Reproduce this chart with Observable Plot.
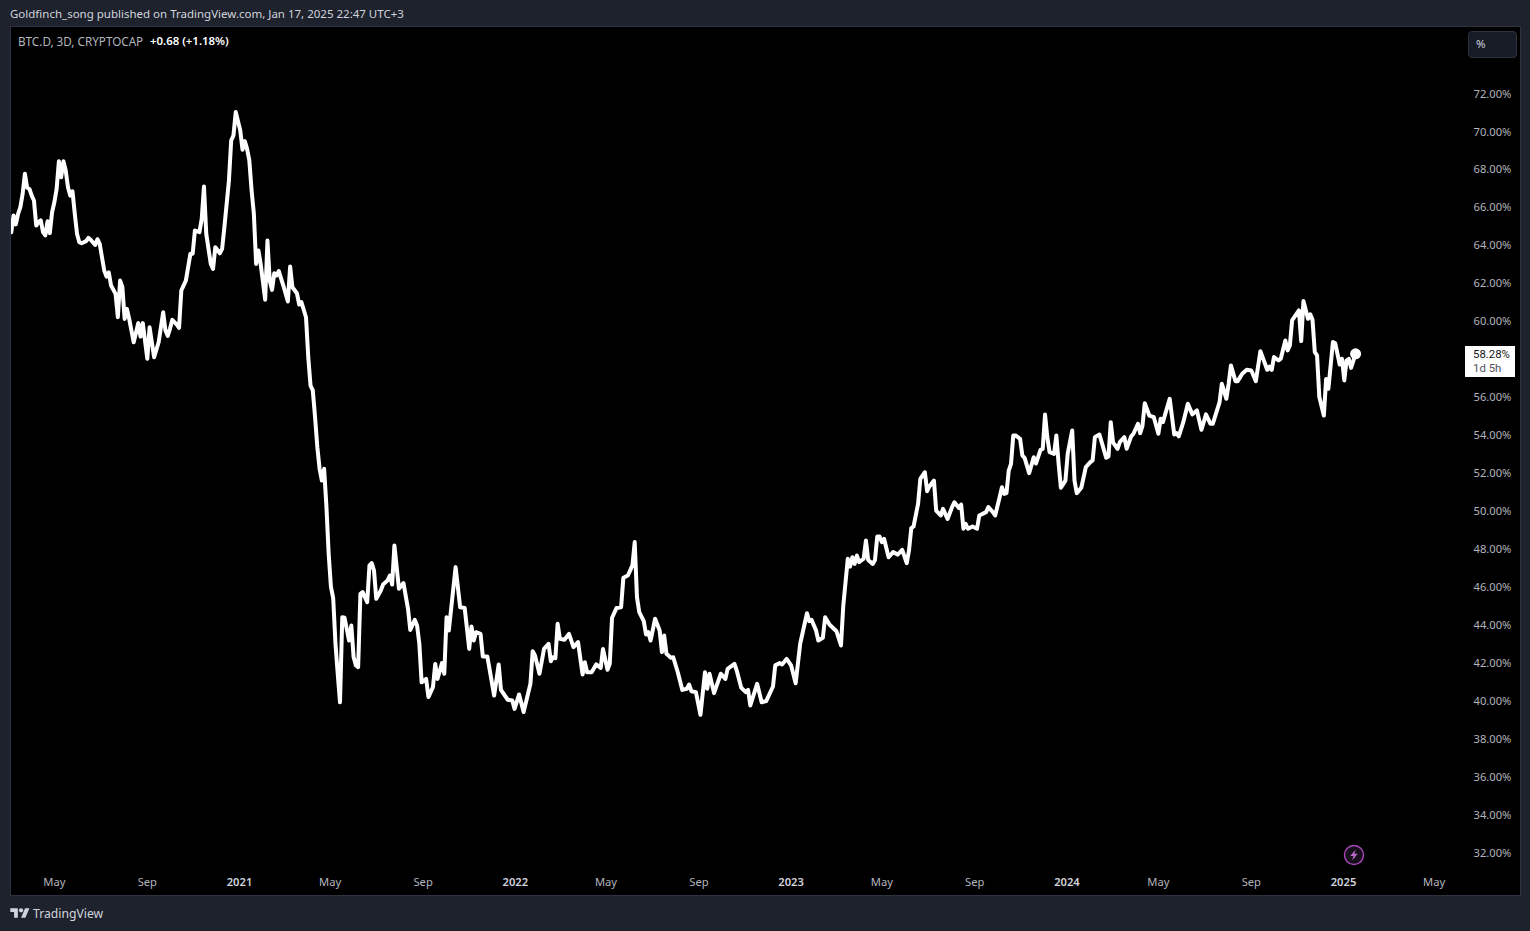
<!DOCTYPE html>
<html>
<head>
<meta charset="utf-8">
<script src="https://cdn.jsdelivr.net/npm/d3@7"></script>
<script src="https://cdn.jsdelivr.net/npm/@observablehq/plot@0.6"></script>
<style>
  html,body{margin:0;padding:0;background:#1e222d;width:1530px;height:931px;overflow:hidden;font-family:"Noto Sans",sans-serif;}
  .abs{position:absolute;white-space:nowrap;}
  #chart{position:absolute;left:11px;top:27px;width:1509px;height:868px;outline:1px solid #2e323e;}
  #chart svg{display:block;}
</style>
</head>
<body>
<div class="abs" id="head" style="left:10px;top:6px;font-size:11.5px;line-height:16px;color:#d1d4dc;">Goldfinch_song published on TradingView.com, Jan 17, 2025 22:47 UTC+3</div>
<div id="chart"></div>
<div class="abs" style="left:18px;top:33px;font-size:11.7px;line-height:16px;color:#b2b5be;">BTC.D, 3D, CRYPTOCAP</div>
<div class="abs" style="left:150px;top:33px;font-size:11.4px;line-height:16px;color:#fff;font-weight:600;">+0.68 (+1.18%)</div>
<div class="abs" style="left:1468px;top:31px;width:47px;height:25px;background:#171b26;border:1px solid #2e323e;border-radius:4px;"></div>
<div class="abs" style="left:1476px;top:36px;font-size:11.5px;line-height:16px;color:#d1d4dc;">%</div>
<div class="abs" style="left:1465px;top:346px;width:50px;height:31px;background:#fff;"></div>
<div class="abs" style="left:1473px;top:348px;font-family:Roboto,sans-serif;font-size:11.4px;line-height:13px;color:#131722;">58.28%</div>
<div class="abs" style="left:1473px;top:362px;font-family:Roboto,sans-serif;font-size:11.4px;line-height:13px;color:#50535e;">1d 5h</div>
<svg class="abs" style="left:1343px;top:844px;" width="22" height="22" viewBox="0 0 22 22">
  <circle cx="11" cy="11" r="9.5" fill="#16101c" stroke="#ab47bc" stroke-width="1.4"/>
  <path d="M12.6 5.6 L7.2 12 H10.4 L9.2 16.4 L14.8 9.8 H11.4 Z" fill="#ba68c8"/>
</svg>
<svg class="abs" style="left:10px;top:906px;" width="20" height="14" viewBox="0 0 36 26">
  <path d="M14 22H7V11H0V4h14v18zM28 22h-8l7.5-18h8L28 22z" fill="#d1d4dc"/>
  <circle cx="20" cy="8" r="4" fill="#d1d4dc"/>
</svg>
<div class="abs" style="left:33px;top:905px;font-size:12.2px;line-height:18px;color:#d1d4dc;">TradingView</div>
<script>
// BTC dominance (%). Each bar number counts 3-day bars from firstBar.
const firstBar = new Date(Date.UTC(2020, 2, 5));
const bars2020 = [0,1,2,3,4,5,6,7,8,9,10,11,12,13,14,15,16,17,18,19,20,21,22,23,24,25,26,27,28,29,30,31,33,34,35,37,38,39,40,41,42,43,44,46,47,48,49,50,51,52,54,56,57,58,60,61,63,65,67,68,69,70,71,73,74];
const dom2020 = [64.69,65.57,65.10,65.66,66.01,66.71,67.77,67.03,66.97,66.62,66.36,65.04,65.22,65.31,64.69,64.52,65.27,64.64,65.75,66.27,66.97,68.43,67.59,68.43,67.94,67.06,66.62,66.85,65.66,64.60,64.16,64.11,64.22,64.39,64.29,64.02,64.32,64.08,63.37,62.67,62.35,62.57,61.88,61.44,60.21,62.14,61.79,60.12,60.65,60.12,58.89,59.90,59.19,59.90,58.02,59.68,58.10,58.89,60.47,59.51,59.23,59.60,60.07,59.82,59.65];
const bars2021a = [75,77,79,80,81,83,84,85,86,88,89,90,92,93,94,96,97,98,99,101,102,103,104,105,106,107,108,109,110,112,113,114,115,116,117,118,120,122,123,124,126,127,128,130];
const dom2021a = [61.62,62.14,63.55,63.55,64.78,64.69,65.39,67.10,64.60,63.02,62.76,63.90,63.58,63.81,64.95,67.41,69.52,69.79,71.02,70.05,69.03,69.49,69.08,68.47,66.89,65.66,63.02,63.73,63.02,61.13,64.25,62.14,61.65,62.53,62.41,62.64,61.88,61.04,62.88,61.79,61.47,60.88,61.00,60.21];
const bars2021b = [131,132,133,134,135,136,137,138,139,140,141,142,143,144,145,146,147,149,150,151,152,153,154,155,157,158,159,160,161,163,164,166,167,168,169,171,173,175,176,178,179,180,181,183,184,186,187,188,190,191,192,193,196,198,200,202,203,204,205,207,208];
const dom2021b = [58.10,56.60,56.35,54.94,53.36,52.22,51.60,52.22,50.25,47.74,46.00,45.40,43.00,41.42,39.92,44.40,44.37,43.17,43.96,42.30,41.86,41.77,45.63,45.72,45.19,47.13,47.25,46.86,45.37,45.81,46.12,46.34,46.60,46.12,48.18,45.90,46.20,44.84,43.73,44.26,43.96,43.00,40.97,41.15,40.19,40.71,41.94,41.15,41.98,41.42,44.40,43.70,47.04,44.93,44.89,42.73,43.91,43.17,43.61,43.52,42.33];
const bars2022 = [210,213,215,216,219,221,222,224,226,229,230,231,233,235,237,238,239,240,241,242,244,246,248,250,252,253,254,256,258,260,261,263,264,265,267,269,270,272,274,275,276,277,279,280,281,282,284,286,287,288,289,291,292,294,296,298,299,300,302];
const dom2022 = [42.33,40.27,41.91,40.57,40.05,40.01,39.57,40.33,39.40,40.89,42.61,42.38,41.42,42.73,43.00,42.08,42.29,42.24,44.05,43.26,43.21,43.52,42.82,43.09,41.38,42.03,41.50,41.50,41.91,41.73,42.73,41.63,41.94,44.37,44.89,44.93,46.48,46.60,47.13,48.36,45.46,44.67,44.19,43.49,43.61,43.17,44.32,43.70,42.56,43.44,42.47,42.26,42.29,41.50,40.57,40.63,40.85,40.50,40.45];
const bars2023 = [304,306,307,308,310,313,315,316,319,320,322,324,325,326,329,331,333,336,337,339,340,342,344,346,348,351,352,353,355,356,358,359,361,364,366,367,369,370,371,372,373,374,376,377,378,380,381,382,383,384,385,387,389,391,393,395,396];
const dom2023 = [39.26,41.50,40.63,41.42,40.40,41.42,41.15,41.68,41.94,41.59,40.68,40.45,40.57,39.75,40.89,39.92,39.98,40.75,41.86,41.98,41.91,42.20,41.86,40.92,43.00,44.61,44.19,44.26,43.70,43.17,43.31,44.40,44.00,43.66,42.91,45.00,47.48,47.07,47.56,47.21,47.65,47.30,47.48,48.44,47.42,47.21,47.42,48.65,48.65,48.36,48.53,47.56,47.83,47.70,47.95,47.25,47.92];
const bars2024a = [397,398,400,401,403,404,405,407,408,410,411,413,415,416,418,419,420,421,422,424,426,427,430,431,433,434,436,437,438,439,440,441,442,443,445,446,447,449,451,452,454,455,456,457,458,460,461,462,463,465,466,468,469,470,472,474,476,477,478,480,481,483,484,485,486,488];
const dom2024a = [49.09,49.18,50.37,51.69,52.04,51.04,51.29,51.60,50.02,49.76,50.11,49.58,50.20,50.46,50.16,50.34,49.06,49.32,49.06,49.18,49.06,49.76,49.94,50.20,49.94,49.76,50.73,51.25,50.90,50.94,52.13,52.48,53.98,53.98,53.80,52.92,52.80,51.99,52.83,52.50,53.22,53.27,55.08,53.89,53.10,53.01,53.98,52.48,51.22,51.60,53.01,54.24,51.60,50.94,51.22,52.31,52.57,52.66,53.89,54.03,53.62,52.80,52.87,54.68,53.62,53.27];
const bars2024b = [489,491,492,494,495,497,498,499,500,502,504,506,507,508,511,513,514,515,517,519,521,523,525,527,529,530,533,534,536,537,538,540,541,543,545,547,549,551,554,555,556,557,559,560,562,563,564,565,568,569,570,572,573,574,575,576,577,579,580,581,583,584,586,587,588,589,590,591,593];
const dom2024b = [53.63,53.89,53.28,53.93,54.07,54.59,54.10,54.50,55.68,55.03,54.94,54.07,54.86,54.68,55.91,54.03,54.10,53.93,54.68,55.65,55.09,55.30,54.28,55.09,54.59,54.59,55.74,56.70,55.91,56.70,57.67,56.84,56.84,57.23,57.44,57.40,56.84,58.42,57.44,57.61,57.44,58.11,57.93,58.02,58.98,58.46,58.72,60.04,60.57,58.95,61.06,60.13,60.36,60.07,58.37,58.20,56.00,55.03,56.96,56.44,58.90,58.84,57.72,58.02,56.88,57.93,58.02,57.54,58.28];

// 58.00% sits under the last-price tag in the reference, so it is not drawn.
const priceTicks = [32,34,36,38,40,42,44,46,48,50,52,54,56,60,62,64,66,68,70,72];
const monthTicks = ["2020-05-01","2020-09-01","2021-05-01","2021-09-01","2022-05-01","2022-09-01","2023-05-01","2023-09-01","2024-05-01","2024-09-01","2025-05-01"].map(d => new Date(d));
const yearTicks = ["2021-01-01","2022-01-01","2023-01-01","2024-01-01","2025-01-01"].map(d => new Date(d));

const bars = [...bars2020, ...bars2021a, ...bars2021b, ...bars2022, ...bars2023, ...bars2024a, ...bars2024b];
const dominance = [...dom2020, ...dom2021a, ...dom2021b, ...dom2022, ...dom2023, ...dom2024a, ...dom2024b];
const rows = bars.map((b, i) => ({date: d3.utcDay.offset(firstBar, 3 * b), value: dominance[i]}));
const last = rows[rows.length - 1];

const plot = Plot.plot({
  width: 1509,
  height: 868,
  marginTop: 0, marginLeft: 0, marginRight: 47, marginBottom: 20,
  style: {background: "#000", fontFamily: '"Noto Sans",sans-serif', fontSize: "11.2px", overflow: "hidden"},
  x: {type: "utc", domain: [yearTicks[0], yearTicks[4]], range: [228, 1332], label: null},
  y: {domain: [32, 72], range: [825, 66], label: null},
  marks: [
    Plot.axisY({anchor: "right", ticks: priceTicks, tickSize: 0, tickPadding: 0, dy: 0.5, label: null, color: "#b2b5be", tickFormat: d => d.toFixed(2) + "%"}),
    Plot.axisX({anchor: "bottom", ticks: monthTicks, tickSize: 0, tickPadding: 2.6, label: null, color: "#b2b5be", tickFormat: d3.utcFormat("%b")}),
    Plot.axisX({anchor: "bottom", ticks: yearTicks, tickSize: 0, tickPadding: 2.6, label: null, color: "#d1d4dc", fontWeight: 600, tickFormat: d3.utcFormat("%Y")}),
    Plot.line(rows, {x: "date", y: "value", stroke: "#fff", strokeWidth: 4, strokeLinejoin: "round", strokeLinecap: "round"}),
    Plot.dot([last], {x: "date", y: "value", r: 5.5, fill: "#fff"})
  ]
});
document.getElementById("chart").appendChild(plot);
</script>
</body>
</html>
